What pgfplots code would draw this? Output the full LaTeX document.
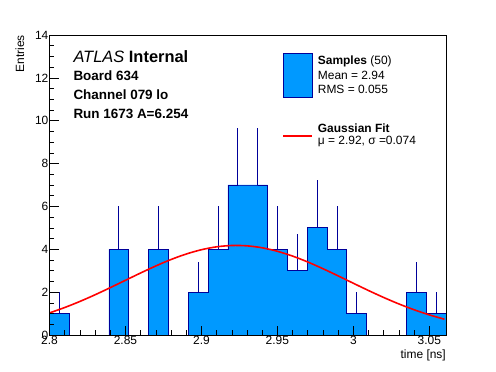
\documentclass[border=0pt]{standalone}
\usepackage{pgfplots}
\pgfplotsset{compat=1.18}
\usepackage{fontspec}
\setmainfont{Liberation Sans}
\definecolor{histfill}{RGB}{0,153,255}
\definecolor{histline}{RGB}{0,0,153}
\definecolor{fitred}{RGB}{255,0,0}
\begin{document}
\begin{tikzpicture}
\useasboundingbox (-49.5bp,-37bp) rectangle (446.5bp,335bp);
\begin{axis}[
  at={(0bp,0bp)}, anchor=south west,
  scale only axis, width=396.5bp, height=300bp,
  xmin=2.8, xmax=3.061, ymin=0, ymax=14,
  xtick={2.8,2.85,2.9,2.95,3,3.05},
  ytick={0,2,4,6,8,10,12,14},
  minor x tick num=4, minor y tick num=3,
  tick align=inside, xtick pos=bottom, ytick pos=left,
  major tick length=9bp, minor tick length=4.5bp,
  axis line style={line width=0.8bp},
  every tick/.style={black, line width=0.6bp},
  tick label style={font=\fontsize{12}{14}\selectfont, inner sep=1bp},
  /pgf/number format/assume math mode=true,
  axis on top,
]
% histogram: left edges of 20 bins, counts
\addplot[const plot mark left, fill=histfill, draw=histline, line width=0.8bp] coordinates {
(2.80000,1) (2.81305,0) (2.82610,0) (2.83915,4) (2.85220,0)
(2.86525,4) (2.87830,0) (2.89135,2) (2.90440,4) (2.91745,7)
(2.93050,7) (2.94355,4) (2.95660,3) (2.96965,5) (2.98270,4)
(2.99575,1) (3.00880,0) (3.02185,0) (3.03490,2) (3.04795,1)
(3.06100,1)
} \closedcycle;
% error bars (sqrt N), upper side
\addplot[draw=none, mark=none, forget plot,
  error bars/.cd, y dir=plus, y explicit, error mark=none,
  error bar style={draw=histline, line width=0.8bp}] coordinates {
(2.806525,1) +- (0,1)
(2.845675,4) +- (0,2)
(2.871775,4) +- (0,2)
(2.897875,2) +- (0,1.414)
(2.910925,4) +- (0,2)
(2.923975,7) +- (0,2.646)
(2.937025,7) +- (0,2.646)
(2.950075,4) +- (0,2)
(2.963125,3) +- (0,1.732)
(2.976175,5) +- (0,2.236)
(2.989225,4) +- (0,2)
(3.002275,1) +- (0,1)
(3.041425,2) +- (0,1.414)
(3.054475,1) +- (0,1)
};
% Gaussian fit curve
\addplot[fitred, line width=1.6bp, mark=none, smooth] coordinates {
(2.80,1.031) (2.81,1.282) (2.82,1.566) (2.83,1.877) (2.84,2.210)
(2.85,2.553) (2.86,2.895) (2.87,3.223) (2.88,3.523) (2.89,3.779)
(2.90,3.980) (2.91,4.115) (2.92,4.177) (2.93,4.161) (2.94,4.070)
(2.95,3.907) (2.96,3.683) (2.97,3.407) (2.98,3.094) (2.99,2.759)
(3.00,2.415) (3.01,2.075) (3.02,1.750) (3.03,1.449) (3.04,1.178)
(3.05,0.940) (3.06,0.736)
};
\end{axis}
% axis titles
\node[anchor=base east, inner sep=0pt, font=\fontsize{12}{14}\selectfont] at (396.5bp,-23bp) {time [ns]};
\node[anchor=base east, rotate=90, inner sep=0pt, font=\fontsize{12}{14}\selectfont] at (-25.5bp,300bp) {Entries};
% ATLAS label block
\node[anchor=base west, inner sep=0pt, font=\fontsize{16.5}{19}\selectfont] at (23.8bp,272.3bp) {\textit{ATLAS} \textbf{Internal}};
\node[anchor=base west, inner sep=0pt, font=\fontsize{13.5}{16}\selectfont\bfseries] at (23.8bp,254.3bp) {Board 634};
\node[anchor=base west, inner sep=0pt, font=\fontsize{13.5}{16}\selectfont\bfseries] at (23.8bp,235bp) {Channel 079 lo};
\node[anchor=base west, inner sep=0pt, font=\fontsize{13.5}{16}\selectfont\bfseries] at (23.8bp,216bp) {Run 1673 A=6.254};
% legend
\draw[fill=histfill, draw=histline, line width=0.8bp] (233.5bp,238bp) rectangle (262.5bp,282bp);
\node[anchor=base west, inner sep=0pt, font=\fontsize{12}{14}\selectfont] at (268.2bp,270bp) {\textbf{Samples} (50)};
\node[anchor=base west, inner sep=0pt, font=\fontsize{12}{14}\selectfont] at (268.2bp,255bp) {Mean = 2.94};
\node[anchor=base west, inner sep=0pt, font=\fontsize{12}{14}\selectfont] at (268.2bp,241bp) {RMS = 0.055};
\draw[fitred, line width=1.6bp] (233.5bp,199bp) -- (262.5bp,199bp);
\node[anchor=base west, inner sep=0pt, font=\fontsize{12}{14}\selectfont] at (268.2bp,202.3bp) {\textbf{Gaussian Fit}};
\node[anchor=base west, inner sep=0pt, font=\fontsize{12}{14}\selectfont] at (268.2bp,190bp) {μ = 2.92, σ =0.074};
\end{tikzpicture}
\end{document}
